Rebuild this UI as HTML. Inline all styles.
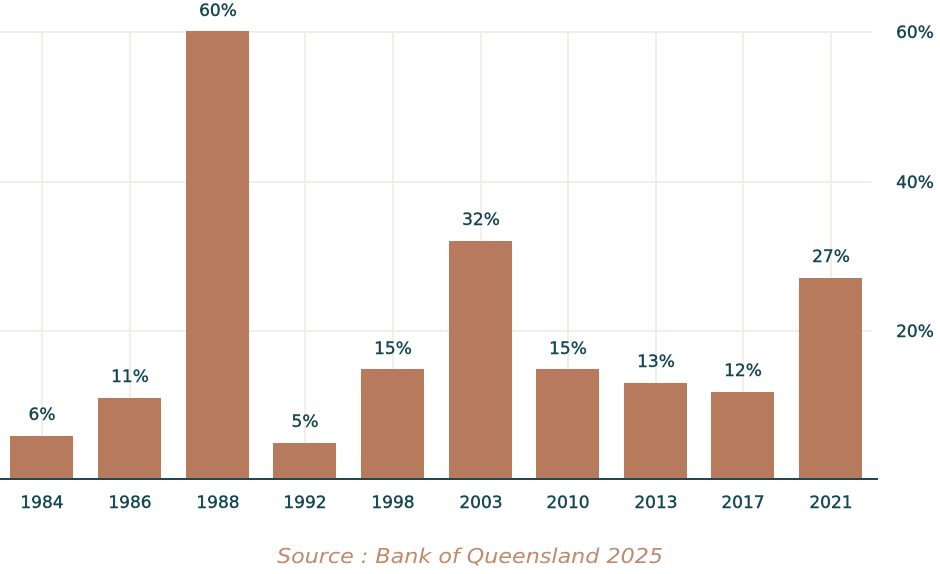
<!DOCTYPE html>
<html><head><style>
body{margin:0;background:#fff;}
svg text{font-family:"DejaVu Sans",sans-serif;}
</style></head><body>
<svg width="940" height="569" xmlns="http://www.w3.org/2000/svg">
<g stroke="#f3efe6" stroke-width="2">
<line x1="0" y1="32" x2="872" y2="32"/>
<line x1="0" y1="182" x2="872" y2="182"/>
<line x1="0" y1="331" x2="872" y2="331"/>
<line x1="42" y1="32" x2="42" y2="479"/><line x1="130" y1="32" x2="130" y2="479"/><line x1="218" y1="32" x2="218" y2="479"/><line x1="305" y1="32" x2="305" y2="479"/><line x1="393" y1="32" x2="393" y2="479"/><line x1="481" y1="32" x2="481" y2="479"/><line x1="568" y1="32" x2="568" y2="479"/><line x1="656" y1="32" x2="656" y2="479"/><line x1="743" y1="32" x2="743" y2="479"/><line x1="831" y1="32" x2="831" y2="479"/>
</g>
<g fill="#b87a5d">
<rect x="10" y="436" width="63" height="43"/>
<rect x="98" y="398" width="63" height="81"/>
<rect x="186" y="31" width="63" height="448"/>
<rect x="273" y="443" width="63" height="36"/>
<rect x="361" y="369" width="63" height="110"/>
<rect x="449" y="241" width="63" height="238"/>
<rect x="536" y="369" width="63" height="110"/>
<rect x="624" y="383" width="63" height="96"/>
<rect x="711" y="392" width="63" height="87"/>
<rect x="799" y="278" width="63" height="201"/>
</g>
<line x1="0" y1="479" x2="878" y2="479" stroke="#1d4a52" stroke-width="2"/>
<g fill="#124650" font-size="17" text-anchor="middle" stroke="#124650" stroke-width="0.4">
<text x="42" y="420">6%</text><text x="130" y="382">11%</text><text x="218" y="16">60%</text><text x="305" y="427">5%</text><text x="393" y="354">15%</text><text x="481" y="225">32%</text><text x="568" y="354">15%</text><text x="656" y="367">13%</text><text x="743" y="376">12%</text><text x="831" y="262">27%</text>
<text x="42" y="508">1984</text><text x="130" y="508">1986</text><text x="218" y="508">1988</text><text x="305" y="508">1992</text><text x="393" y="508">1998</text><text x="481" y="508">2003</text><text x="568" y="508">2010</text><text x="656" y="508">2013</text><text x="743" y="508">2017</text><text x="831" y="508">2021</text>
<text x="915" y="38">60%</text><text x="915" y="188">40%</text><text x="915" y="337">20%</text>
</g>
<text x="470" y="563" text-anchor="middle" font-size="20" font-style="italic" fill="#c08a6c" textLength="386" lengthAdjust="spacingAndGlyphs">Source : Bank of Queensland 2025</text>
</svg>
</body></html>
